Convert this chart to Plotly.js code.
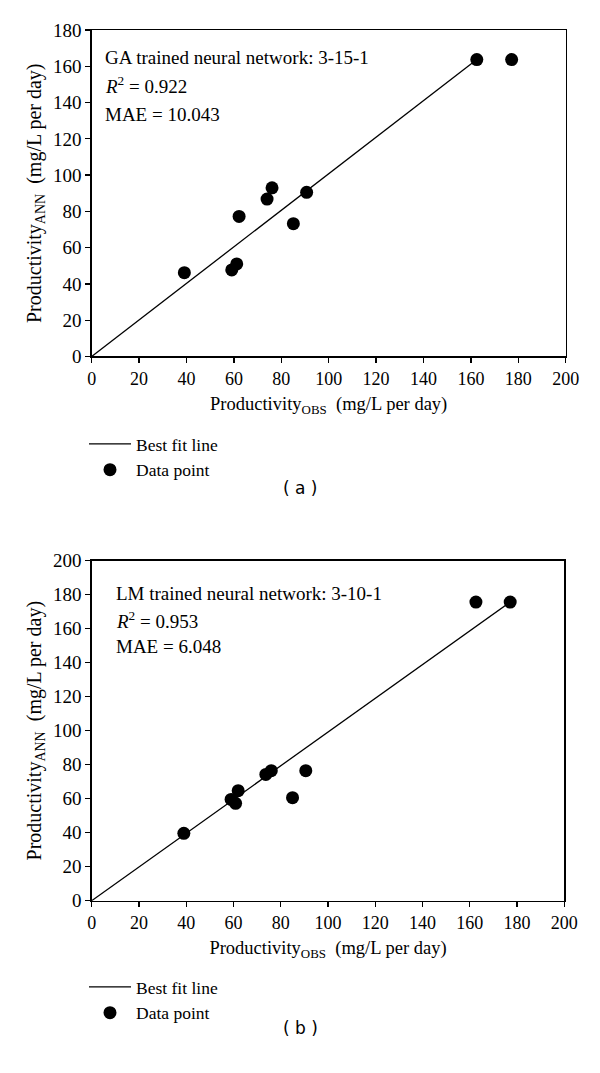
<!DOCTYPE html>
<html>
<head>
<meta charset="utf-8">
<script src="https://cdn.plot.ly/plotly-3.0.1.min.js"></script>
<style>html,body{margin:0;padding:0;background:#fff;}#chart{width:600px;height:1073px;}</style>
</head>
<body>
<div id="chart"></div>
<script>
// Panel (a): GA trained network
var obsA = [39.1, 59.1, 61.2, 62.2, 74.0, 76.1, 85.1, 90.7, 162.5, 177.2];
var annA = [46.2, 47.7, 51.0, 77.2, 86.8, 93.0, 73.2, 90.5, 163.7, 163.7];
var fitAx = [0, 162.5];
var fitAy = [0, 163.7];
// Panel (b): LM trained network
var obsB = [39.0, 59.0, 60.9, 62.0, 73.7, 76.0, 85.0, 90.6, 162.6, 177.1];
var annB = [39.6, 59.6, 57.3, 64.7, 74.3, 76.5, 60.6, 76.5, 175.7, 175.7];
var fitBx = [0, 177.1];
var fitBy = [0, 175.7];

var textA = ["GA trained neural network: 3-15-1", "<i>R</i><sup>2</sup> = 0.922", "MAE = 10.043"];
var textB = ["LM trained neural network: 3-10-1", "<i>R</i><sup>2</sup> = 0.953", "MAE = 6.048"];
var captions = ["( a )", "( b )"];
var xTitle = "Productivity<sub>OBS</sub>  (mg/L per day)";
var yTitle = "Productivity<sub>ANN</sub>  (mg/L per day)";

var serif = "Liberation Serif, Times New Roman, serif";
var black = "#000";

var traces = [
  {x: fitAx, y: fitAy, mode: "lines", name: "Best fit line", line: {color: black, width: 1.3}, xaxis: "x", yaxis: "y", legend: "legend"},
  {x: obsA, y: annA, mode: "markers", name: "Data point", marker: {color: black, size: 13}, xaxis: "x", yaxis: "y", legend: "legend"},
  {x: fitBx, y: fitBy, mode: "lines", name: "Best fit line", line: {color: black, width: 1.3}, xaxis: "x2", yaxis: "y2", legend: "legend2"},
  {x: obsB, y: annB, mode: "markers", name: "Data point", marker: {color: black, size: 13}, xaxis: "x2", yaxis: "y2", legend: "legend2"}
];

function xax(anchor) {
  return {
    range: [0, 200], dtick: 20, tick0: 0, anchor: anchor,
    domain: [0.1528, 0.9428],
    showgrid: false, zeroline: false,
    showline: true, linecolor: black, linewidth: 1.5, mirror: true,
    ticks: "outside", ticklen: 5, tickwidth: 1.3, tickcolor: black,
    tickfont: {family: serif, size: 18, color: black},
    title: {text: xTitle, font: {family: serif, size: 18.5, color: black}, standoff: 9}
  };
}
function yax(anchor, rmax, dom) {
  return {
    range: [0, rmax], dtick: 20, tick0: 0, anchor: anchor,
    domain: dom,
    showgrid: false, zeroline: false,
    showline: true, linecolor: black, linewidth: 1.5, mirror: true,
    ticks: "outside", ticklen: 5, tickwidth: 1.3, tickcolor: black,
    tickfont: {family: serif, size: 19, color: black},
    title: {text: yTitle, font: {family: serif, size: 20, color: black}, standoff: 6}
  };
}

var annotations = [];
var yA = [164.6, 149.5, 133.4];
var yB = [180.8, 165.1, 149.4];
for (var i = 0; i < 3; i++) {
  annotations.push({x: 4.8, y: yA[i], xref: "x", yref: "y", text: textA[i], showarrow: false, xanchor: "left", yanchor: "middle", font: {family: serif, size: 19, color: black}});
  annotations.push({x: 9.6, y: yB[i], xref: "x2", yref: "y2", text: textB[i], showarrow: false, xanchor: "left", yanchor: "middle", font: {family: serif, size: 19, color: black}});
}
annotations.push({x: 0.5, y: (1073 - 488) / 1073, xref: "paper", yref: "paper", text: captions[0], showarrow: false, xanchor: "center", yanchor: "middle", font: {family: "DejaVu Sans, sans-serif", size: 17, color: black}});
annotations.push({x: 0.5, y: (1073 - 1028) / 1073, xref: "paper", yref: "paper", text: captions[1], showarrow: false, xanchor: "center", yanchor: "middle", font: {family: "DejaVu Sans, sans-serif", size: 17, color: black}});

var legendBase = {
  x: 0.14, xanchor: "left", yanchor: "top",
  bgcolor: "rgba(0,0,0,0)", borderwidth: 0,
  font: {family: serif, size: 17.5, color: black},
  itemwidth: 42, tracegroupgap: 0
};
var leg1 = Object.assign({}, legendBase, {y: (1073 - 426) / 1073});
var leg2 = Object.assign({}, legendBase, {y: (1073 - 969) / 1073});

var layout = {
  width: 600, height: 1073,
  margin: {l: 0, r: 0, t: 0, b: 0},
  paper_bgcolor: "#fff", plot_bgcolor: "#fff",
  showlegend: true,
  legend: leg1, legend2: leg2,
  xaxis: xax("y"),
  yaxis: yax("x", 180, [0.6678, 0.9720]),
  xaxis2: Object.assign(xax("y2"), {domain: [0.1528, 0.9405]}),
  yaxis2: yax("x2", 200, [0.1606, 0.4774]),
  annotations: annotations,
  font: {family: serif, color: black}
};

Plotly.newPlot("chart", traces, layout, {displayModeBar: false, staticPlot: true});
</script>
</body>
</html>
